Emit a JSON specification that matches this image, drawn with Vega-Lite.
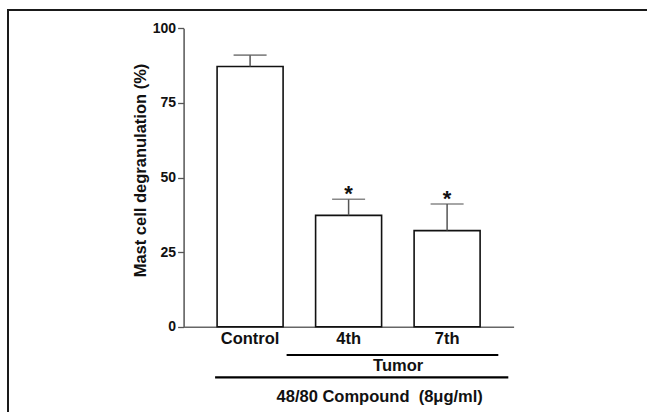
{
  "$schema": "https://vega.github.io/schema/vega-lite/v6.json",
  "width": 639,
  "height": 403,
  "autosize": {"type": "none"},
  "padding": {"left": 8, "top": 10, "right": 0, "bottom": 0},
  "background": "white",
  "config": {
    "view": {"stroke": "#1a1a1a", "strokeWidth": 2, "strokeDash": [640, 1042, 404, 0]},
    "font": "Liberation Sans"
  },
  "datasets": {
    "bars": [
      {"group": "Control", "value": 87.2, "upper": 91.0, "sig": ""},
      {"group": "4th", "value": 37.3, "upper": 42.7, "sig": "*"},
      {"group": "7th", "value": 32.2, "upper": 41.1, "sig": "*"}
    ],
    "notes": [
      {"label": "Tumor", "start": "4th", "end": "7th"},
      {"label": "48/80 Compound\u00a0 (8μg/ml)", "start": "Control", "end": "7th"}
    ]
  },
  "layer": [
    {
      "data": {"name": "bars"},
      "mark": {"type": "bar", "fill": "white", "stroke": "#111", "strokeWidth": 1.6},
      "encoding": {
        "x": {
          "field": "group", "type": "nominal", "sort": null,
          "scale": {"domain": ["Control", "4th", "7th"], "range": [175.6, 505.6], "paddingInner": 0.33, "paddingOuter": 0.34},
          "axis": {
            "title": null, "orient": "bottom", "offset": -86.3,
            "ticks": false, "labelPadding": 4, "labelAngle": 0,
            "labelFont": "Liberation Sans", "labelFontSize": 16.5, "labelFontWeight": "bold", "labelColor": "#111",
            "domainColor": "#666", "domainWidth": 1.5
          }
        },
        "y": {
          "field": "value", "type": "quantitative",
          "scale": {"domain": [0, 100], "range": [316.7, 18.3], "nice": false},
          "axis": {
            "title": "Mast cell degranulation (%)", "orient": "left", "offset": -175.6,
            "values": [0, 25, 50, 75, 100], "grid": false,
            "tickSize": 6, "tickColor": "#555", "tickWidth": 1.3,
            "domainColor": "#555", "domainWidth": 1.5,
            "labelPadding": 2, "labelFont": "Liberation Sans", "labelFontSize": 14, "labelFontWeight": "bold", "labelColor": "#111",
            "titleFont": "Liberation Sans", "titleFontSize": 16.5, "titleFontWeight": "bold", "titleColor": "#111",
            "titlePadding": 4, "titleY": 160
          }
        }
      }
    },
    {
      "data": {"name": "bars"},
      "mark": {"type": "rule", "color": "#555", "strokeWidth": 1.5},
      "encoding": {
        "x": {"field": "group", "type": "nominal", "sort": null},
        "y": {"field": "value", "type": "quantitative"},
        "y2": {"field": "upper"}
      }
    },
    {
      "data": {"name": "bars"},
      "mark": {"type": "tick", "color": "#555", "size": 33, "thickness": 1.6},
      "encoding": {
        "x": {"field": "group", "type": "nominal", "sort": null},
        "y": {"field": "upper", "type": "quantitative"}
      }
    },
    {
      "data": {"name": "bars"},
      "mark": {"type": "text", "fontSize": 22, "fontWeight": "bold", "baseline": "alphabetic", "align": "center", "color": "#111", "dy": 2},
      "encoding": {
        "x": {"field": "group", "type": "nominal", "sort": null},
        "y": {"field": "upper", "type": "quantitative"},
        "text": {"field": "sig"}
      }
    },
    {
      "data": {"name": "notes"},
      "transform": [{"filter": "datum.label == 'Tumor'"}],
      "mark": {"type": "rule", "color": "#000", "strokeWidth": 2.2, "xOffset": -29, "x2Offset": 18.2, "yOffset": 28.3},
      "encoding": {
        "x": {"field": "start", "type": "nominal", "sort": null, "bandPosition": 0},
        "x2": {"field": "end", "bandPosition": 1},
        "y": {"datum": 0, "type": "quantitative"}
      }
    },
    {
      "data": {"name": "notes"},
      "transform": [{"filter": "datum.label != 'Tumor'"}],
      "mark": {"type": "rule", "color": "#000", "strokeWidth": 2.2, "xOffset": -2, "x2Offset": 28.2, "yOffset": 50.6},
      "encoding": {
        "x": {"field": "start", "type": "nominal", "sort": null, "bandPosition": 0},
        "x2": {"field": "end", "bandPosition": 1},
        "y": {"datum": 0, "type": "quantitative"}
      }
    },
    {
      "data": {"name": "notes"},
      "transform": [{"filter": "datum.label == 'Tumor'"}],
      "mark": {"type": "text", "fontSize": 16.5, "fontWeight": "bold", "color": "#111", "align": "center", "baseline": "middle", "xOffset": -16, "yOffset": 39},
      "encoding": {
        "x": {"field": "end", "type": "nominal", "sort": null, "bandPosition": 0},
        "y": {"datum": 0, "type": "quantitative"},
        "text": {"field": "label"}
      }
    },
    {
      "data": {"name": "notes"},
      "transform": [{"filter": "datum.label != 'Tumor'"}],
      "mark": {"type": "text", "fontSize": 16.5, "fontWeight": "bold", "color": "#111", "align": "center", "baseline": "middle", "xOffset": -34.4, "yOffset": 70},
      "encoding": {
        "x": {"field": "end", "type": "nominal", "sort": null, "bandPosition": 0},
        "y": {"datum": 0, "type": "quantitative"},
        "text": {"field": "label"}
      }
    }
  ]
}
